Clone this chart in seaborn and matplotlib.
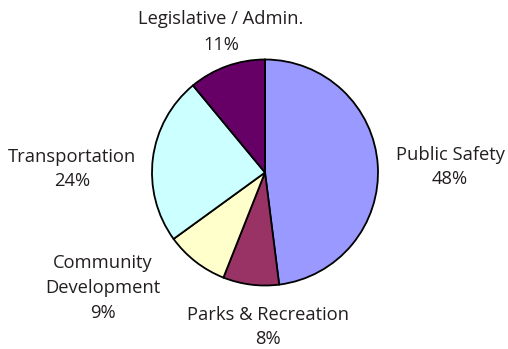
import matplotlib
matplotlib.use("Agg")
import matplotlib.pyplot as plt
import seaborn as sns

# Budget share by department
categories = ["Public Safety", "Parks & Recreation", "Community\nDevelopment",
              "Transportation", "Legislative / Admin."]
shares = [48, 8, 9, 24, 11]
colors = ["#9999FF", "#993366", "#FFFFCC", "#CCFFFF", "#660066"]

sns.set_theme(style="white")
plt.rcParams["font.family"] = ["Open Sans", "DejaVu Sans"]

W, H, DPI = 508, 349, 100
fig = plt.figure(figsize=(W / DPI, H / DPI), dpi=DPI)
ax = fig.add_axes([0, 0, 1, 1])

ax.pie(shares, colors=colors, startangle=90, counterclock=False, radius=1,
       wedgeprops=dict(edgecolor="black", linewidth=1.3))

# pie centre and radius in pixels
cx, cy, r = 265, 172.5, 113
ax.set_aspect("equal")
ax.set_xlim(-cx / r, (W - cx) / r)
ax.set_ylim(-(H - cy) / r, cy / r)
ax.axis("off")

# label anchor points (pixel centres of each text block)
label_px = [(450, 167), (268, 327), (103, 288), (72, 169), (221, 32)]
for name, val, (px, py) in zip(categories, shares, label_px):
    ax.text((px - cx) / r, (cy - py) / r, f"{name}\n{val}%",
            ha="center", va="center", fontsize=13.2, color="#231f20",
            linespacing=1.5)

fig.savefig("out.png", dpi=DPI)
